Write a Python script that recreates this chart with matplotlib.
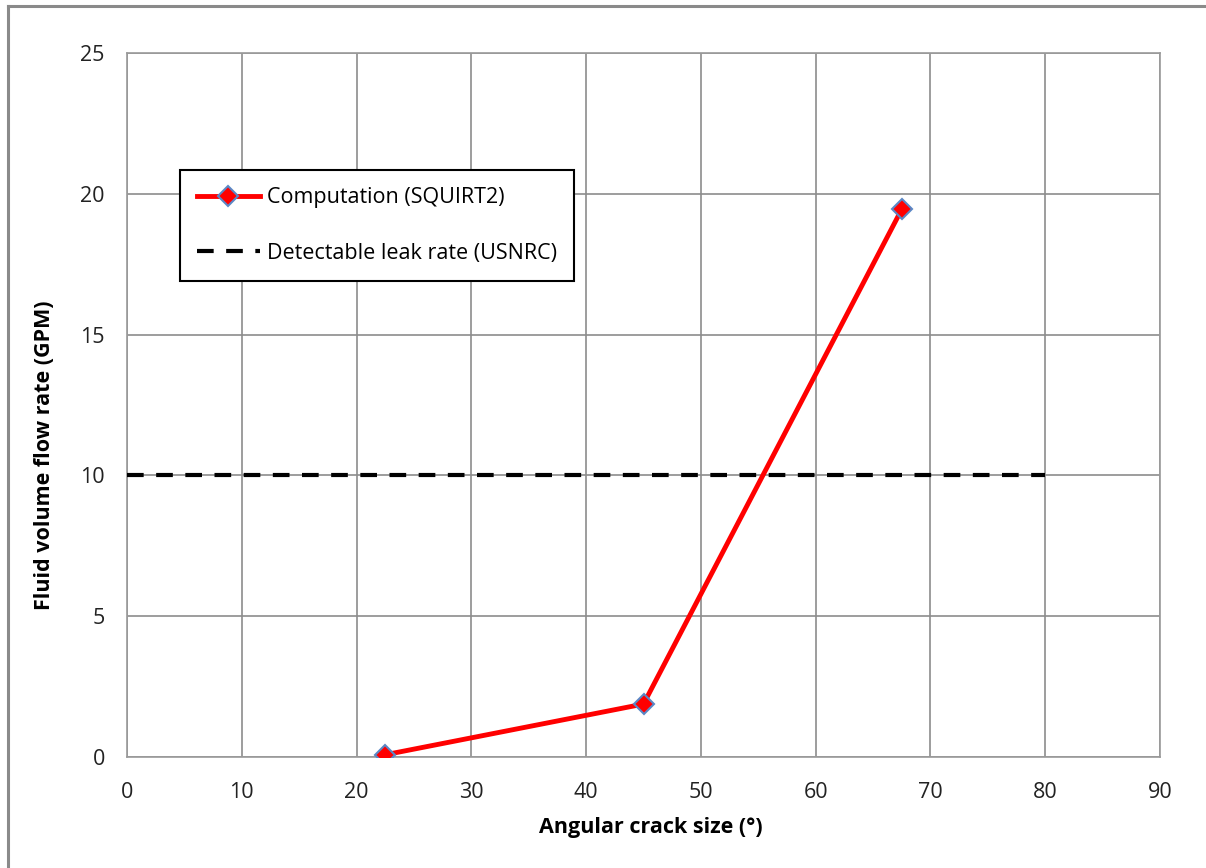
import matplotlib.pyplot as plt
from matplotlib.lines import Line2D

plt.rcParams['font.family'] = ['Open Sans', 'DejaVu Sans']

# crack size (deg) vs leak flow (GPM) from SQUIRT2
crack_deg = [22.5, 45.0, 67.5]
flow_gpm = [0.08, 1.88, 19.45]

# USNRC detectable leak rate
detect_x = [0, 80]
detect_gpm = [10, 10]

x_ticks = list(range(0, 91, 10))
y_ticks = list(range(0, 26, 5))

fig = plt.figure(figsize=(12.06, 8.68), dpi=100)
ax = fig.add_axes([127 / 1206, 1 - 757 / 868, (1160 - 127) / 1206, (757 - 53) / 868])

# chart area border
fig.add_artist(Line2D([8 / 1206, 8 / 1206], [0, 1 - 6 / 868], transform=fig.transFigure,
                      color='#8a8a8a', lw=2.2))
fig.add_artist(Line2D([8 / 1206, 1], [1 - 6 / 868, 1 - 6 / 868], transform=fig.transFigure,
                      color='#8a8a8a', lw=2.2))

ax.plot(crack_deg, flow_gpm, color='#ff0000', lw=3.5, marker='D', markersize=10,
        markerfacecolor='#ff0000', markeredgecolor='#5b87c5', markeredgewidth=1.5,
        label='Computation (SQUIRT2)', zorder=4)
ax.plot(detect_x, detect_gpm, color='black', lw=3, dashes=(4, 3),
        label='Detectable leak rate (USNRC)', zorder=3)

ax.set_xlim(0, 90)
ax.set_ylim(0, 25)
ax.set_xticks(x_ticks)
ax.set_yticks(y_ticks)
ax.tick_params(length=0, labelsize=15.5, colors='#222222')
ax.tick_params(axis='x', pad=18)
ax.tick_params(axis='y', pad=16)
ax.grid(True, color='#8c8c8c', lw=1.2)
ax.set_axisbelow(True)
for s in ax.spines.values():
    s.set_color('#9a9a9a')
    s.set_linewidth(1.2)

ax.set_xlabel('Angular crack size (°)', fontsize=15.5, fontweight='bold')
ax.set_ylabel('Fluid volume flow rate (GPM)', fontsize=15.5, fontweight='bold')
ax.xaxis.set_label_coords(0.507, -0.085)
ax.yaxis.set_label_coords(-0.07, 0.428)

leg = ax.legend(loc='upper left', bbox_to_anchor=(53 / 1033, 1 - 117 / 704), fontsize=15.5,
                frameon=True, fancybox=False, edgecolor='black', framealpha=1,
                borderaxespad=0, handlelength=2.9, handletextpad=0.35,
                labelspacing=1.6, borderpad=0.8)
leg.get_frame().set_linewidth(1.5)

fig.savefig('out.png', dpi=100)
